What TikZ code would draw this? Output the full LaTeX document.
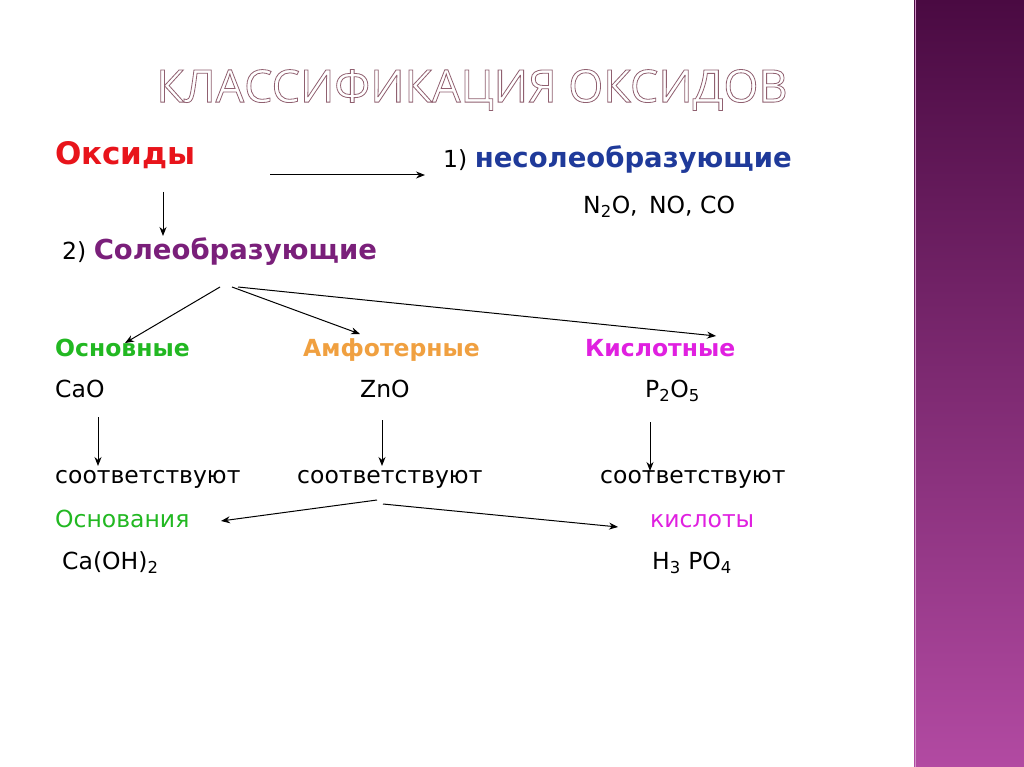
\documentclass[tikz,border=0pt]{standalone}
\usepackage{fontspec}
\setmainfont{DejaVu Sans}
\newfontfamily\titlefont{Open Sans}
\usetikzlibrary{arrows.meta}
\definecolor{cred}{HTML}{E8141B}
\definecolor{cblue}{HTML}{1F3A9A}
\definecolor{cpurp}{HTML}{7A1F7A}
\definecolor{cgreen}{HTML}{22B822}
\definecolor{corange}{HTML}{F0A040}
\definecolor{cmag}{HTML}{E020E0}
\definecolor{stripetop}{HTML}{4A0A42}
\definecolor{stripebot}{HTML}{B24AA2}
\newcommand{\outl}[1]{\special{pdf:literal 1 Tr 0.8 w}#1\special{pdf:literal 0 Tr}}
\begin{document}
\begin{tikzpicture}[x=1pt,y=-1pt,
  txt/.style={anchor=west,inner sep=0pt,yshift=-5pt,text height=0.75em,text depth=0.22em,font=\fontsize{23.5}{28}\selectfont},
  big/.style={anchor=west,inner sep=0pt,yshift=-5pt,text height=0.75em,text depth=0.22em,font=\fontsize{31}{36}\selectfont\bfseries},
  arr/.style={-{Stealth[length=9pt,width=7pt]},line width=1pt}]
\useasboundingbox (0,0) rectangle (1024,767);
\fill[white] (0,0) rectangle (1024,767);
\shade[top color=stripetop,bottom color=stripebot] (914,0) rectangle (1024,767);
\draw[stripebot!60!white,line width=1pt] (915,0) -- (915,767);
\node[anchor=center,inner sep=0pt,text=gray!75!purple,font=\titlefont\fontsize{45}{50}\selectfont] (title) at (472,90) {\outl{КЛАССИФИКАЦИЯ ОКСИДОВ}};
\node[big,text=cred] (oks) at (55,157) {Оксиды};
\node[txt] (n1) at (443,160) {1) \textcolor{cblue}{\fontsize{27.5}{32}\selectfont\bfseries несолеобразующие}};
\node[txt] (nsf) at (583,206) {N\textsubscript{2}O,\, NO, CO};
\node[txt] (n2) at (62,252) {2) \textcolor{cpurp}{\fontsize{27.5}{32}\selectfont\bfseries Солеобразующие}};
\coordinate (a1s) at (270,175); \coordinate (a1e) at (425,175);
\draw[arr] (a1s) -- (a1e);
\coordinate (a2s) at (163,192); \coordinate (a2e) at (163,236);
\draw[arr] (a2s) -- (a2e);
\coordinate (b1) at (220,287); \coordinate (b2) at (232,287); \coordinate (b3) at (238,287);
\node[txt,font=\fontsize{23.5}{28}\selectfont\bfseries,text=cgreen] (osn) at (55,349) {Основные};
\node[txt,font=\fontsize{23.5}{28}\selectfont\bfseries,text=corange] (amf) at (303,349) {Амфотерные};
\node[txt,font=\fontsize{23.5}{28}\selectfont\bfseries,text=cmag] (kis) at (585,349) {Кислотные};
\coordinate (e1) at (125,343); \coordinate (e2) at (360,334); \coordinate (e3) at (716,336);
\draw[arr] (b1) -- (e1);
\draw[arr] (b2) -- (e2);
\draw[arr] (b3) -- (e3);
\node[txt] (cao) at (55,390) {CaO};
\node[txt] (zno) at (360,390) {ZnO};
\node[txt] (p2o5) at (645,390) {P\textsubscript{2}O\textsubscript{5}};
\coordinate (v1s) at (98,417); \coordinate (v1e) at (98,466);
\coordinate (v2s) at (382,420); \coordinate (v2e) at (382,466);
\coordinate (v3s) at (650,422); \coordinate (v3e) at (650,471);
\draw[arr] (v1s) -- (v1e); \draw[arr] (v2s) -- (v2e); \draw[arr] (v3s) -- (v3e);
\node[txt] (s1) at (55,476) {соответствуют};
\node[txt] (s2) at (297,476) {соответствуют};
\node[txt] (s3) at (600,476) {соответствуют};
\node[txt,text=cgreen] (osnov) at (55,520) {Основания};
\node[txt,text=cmag] (kisl) at (650,520) {кислоты};
\coordinate (c1s) at (377,500); \coordinate (c1e) at (221,521);
\coordinate (c2s) at (383,504); \coordinate (c2e) at (618,527);
\draw[arr] (c1s) -- (c1e); \draw[arr] (c2s) -- (c2e);
\node[txt] (caoh) at (62,562) {Ca(OH)\textsubscript{2}};
\node[txt] (h3po4) at (652,562) {H\textsubscript{3} PO\textsubscript{4}};
\end{tikzpicture}
\end{document}
